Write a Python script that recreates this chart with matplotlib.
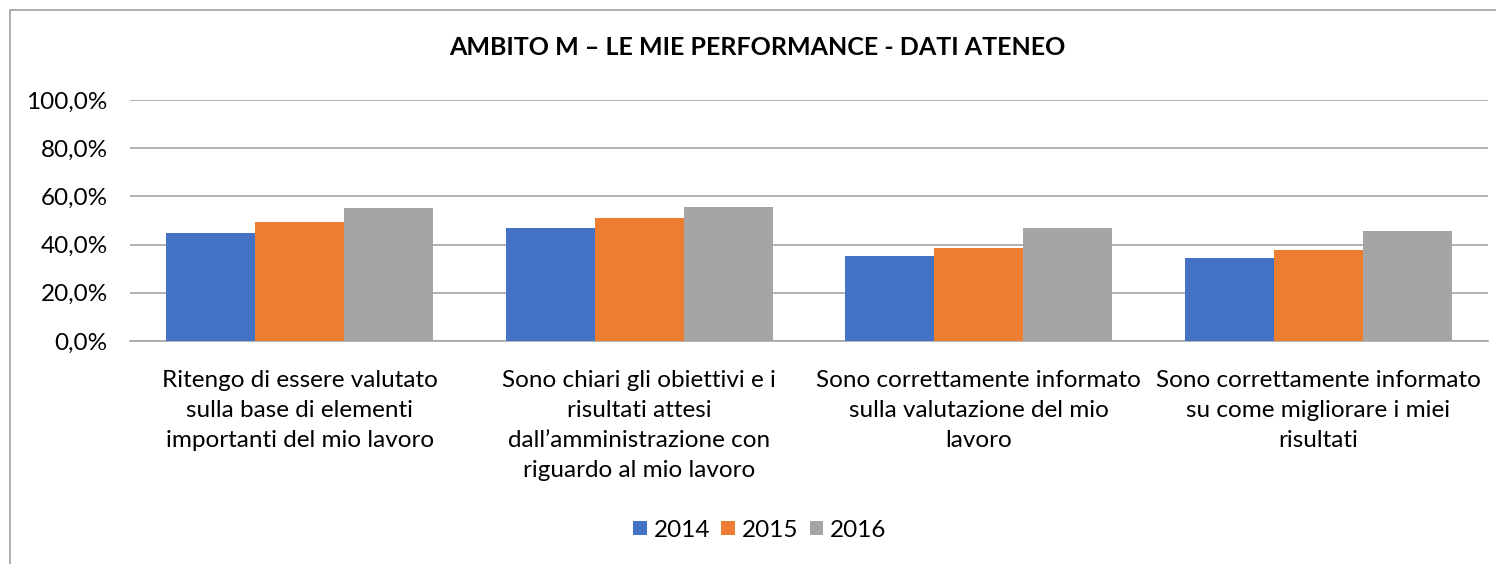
import numpy as np
import matplotlib.pyplot as plt
from matplotlib.ticker import FuncFormatter
from matplotlib.patches import Rectangle

plt.rcParams['font.family'] = ['Lato', 'DejaVu Sans']

categorie = [
    "Ritengo di essere valutato\nsulla base di elementi\nimportanti del mio lavoro",
    "Sono chiari gli obiettivi e i\nrisultati attesi\ndall\u2019amministrazione con\nriguardo al mio lavoro",
    "Sono correttamente informato\nsulla valutazione del mio\nlavoro",
    "Sono correttamente informato\nsu come migliorare i miei\nrisultati",
]
anni = ["2014", "2015", "2016"]
val_2014 = [44.8, 47.0, 35.3, 34.5]
val_2015 = [49.4, 51.2, 38.5, 37.9]
val_2016 = [55.3, 55.5, 46.8, 45.5]
colori = ["#4472C4", "#ED7D31", "#A5A5A5"]

fig = plt.figure(figsize=(14.96, 5.64), dpi=100)
ax = fig.add_axes([0.0869, 0.3954, 0.9078, 0.4273])

# cornice del grafico (tagliata a destra e in basso)
fig.patches.append(Rectangle((10 / 1496, -0.1), 2, (564 - 10) / 564 + 0.1,
                             transform=fig.transFigure, fill=False,
                             edgecolor="#a0a0a0", linewidth=1.2))

x = np.arange(len(categorie))
w = 0.262
serie = [val_2014, val_2015, val_2016]
for i, (vals, anno, col) in enumerate(zip(serie, anni, colori)):
    ax.bar(x + (i - 1) * w, vals, width=w, color=col, label=anno, zorder=3)

ax.set_xlim(-0.5, len(categorie) - 0.5)
ax.set_ylim(0, 100)
ax.set_yticks(np.arange(0, 101, 20))
ax.yaxis.set_major_formatter(FuncFormatter(lambda v, p: f"{v:.1f}%".replace(".", ",")))
ax.grid(axis="y", color="#a6a6a6", linewidth=1.2, zorder=0)
for s in ["top", "right", "left"]:
    ax.spines[s].set_visible(False)
ax.spines["bottom"].set_color("#a6a6a6")
ax.spines["bottom"].set_linewidth(1.2)
ax.tick_params(axis="y", length=0, labelsize=17.5, pad=16)
ax.tick_params(axis="x", length=0, labelsize=17.5, pad=21)
ax.set_xticks(x)
ax.set_xticklabels(categorie, linespacing=1.53)

fig.text(0.506, 0.915, "AMBITO M \u2013 LE MIE PERFORMANCE - DATI ATENEO",
         ha="center", va="center", fontsize=18, fontweight="bold")

fig.legend(loc="center", bbox_to_anchor=(0.508, 0.06), ncol=3, frameon=False,
           fontsize=17.5, handlelength=0.55, handleheight=0.55,
           handletextpad=0.3, columnspacing=0.45)

fig.savefig("out.png", dpi=100)
